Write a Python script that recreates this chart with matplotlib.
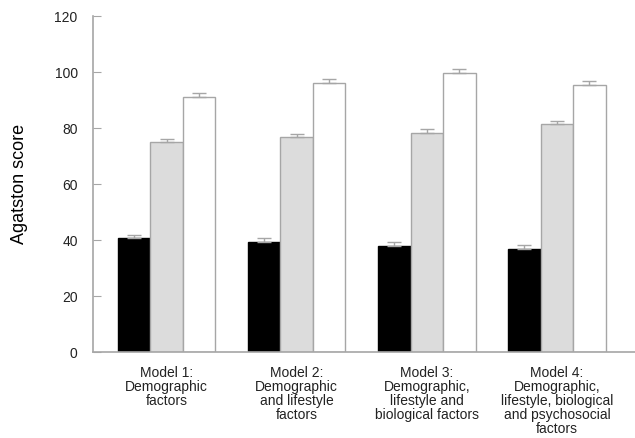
import numpy as np
import matplotlib.pyplot as plt

# data
models = ["Model 1:\nDemographic\nfactors",
          "Model 2:\nDemographic\nand lifestyle\nfactors",
          "Model 3:\nDemographic,\nlifestyle and\nbiological factors",
          "Model 4:\nDemographic,\nlifestyle, biological\nand psychosocial\nfactors"]
black_vals = [40.8, 39.5, 38.0, 37.0]
gray_vals = [75.1, 76.8, 78.4, 81.5]
white_vals = [91.2, 96.2, 99.8, 95.6]
black_err = [1.2, 1.3, 1.3, 1.3]
gray_err = [1.2, 1.2, 1.2, 1.2]
white_err = [1.2, 1.3, 1.2, 1.3]

plt.rcParams['font.family'] = ['Liberation Sans', 'DejaVu Sans']

fig = plt.figure(figsize=(6.35, 4.38), dpi=100)
ax = fig.add_axes([0.1465, 0.196, 0.8535, 0.767])

x = np.arange(len(models))
w = 0.25
edge = '#a6a6a6'
errkw = dict(ecolor=edge, capsize=5, elinewidth=1, capthick=1)

ax.bar(x - w, black_vals, w, color='black', edgecolor='black', linewidth=1,
       yerr=[np.zeros(4), black_err], error_kw=errkw)
ax.bar(x, gray_vals, w, color='#dcdcdc', edgecolor=edge, linewidth=1,
       yerr=[np.zeros(4), gray_err], error_kw=errkw)
ax.bar(x + w, white_vals, w, color='white', edgecolor=edge, linewidth=1,
       yerr=[np.zeros(4), white_err], error_kw=errkw)

ax.set_xlim(-0.565, 3.6)
ax.set_ylim(0, 120)
ax.set_yticks(np.arange(0, 121, 20))
ax.set_xticks(x)
ax.set_xticklabels(models, fontsize=10, linespacing=1.0, color='#222222')
ax.tick_params(axis='x', length=0, pad=10)
ax.tick_params(axis='y', direction='in', length=6, color=edge, labelsize=10,
               pad=11, labelcolor='#222222')

for s in ['top', 'right']:
    ax.spines[s].set_visible(False)
for s in ['left', 'bottom']:
    ax.spines[s].set_color(edge)
    ax.spines[s].set_linewidth(1.2)

ax.set_ylabel("Agatston score", fontsize=13, labelpad=19)

fig.savefig("out.png", dpi=100)
